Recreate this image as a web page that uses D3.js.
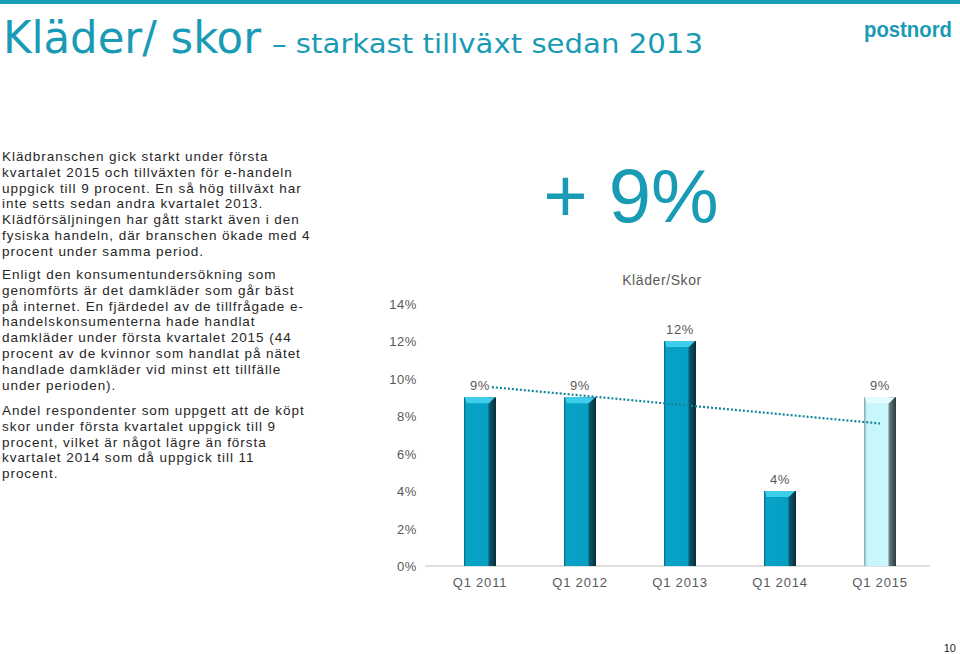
<!DOCTYPE html>
<html>
<head>
<meta charset="utf-8">
<script src="https://cdn.jsdelivr.net/npm/d3@7"></script>
<style>
  body { margin: 0; background: #fff; }
  svg { display: block; }
</style>
</head>
<body>
<div id="chart"></div>
<script>
// data
var categories = ["Q1 2011", "Q1 2012", "Q1 2013", "Q1 2014", "Q1 2015"];
var growth = [9, 9, 12, 4, 9];
var yTicks = [0, 2, 4, 6, 8, 10, 12, 14];

var titleMain = "Kläder/ skor";
var titleSub = "– starkast tillväxt sedan 2013";
var chartTitle = "Kläder/Skor";
var bigNumber = "+ 9%";

var para1 = [
  "Klädbranschen gick starkt under första",
  "kvartalet 2015 och tillväxten för e-handeln",
  "uppgick till 9 procent. En så hög tillväxt har",
  "inte setts sedan andra kvartalet 2013.",
  "Klädförsäljningen har gått starkt även i den",
  "fysiska handeln, där branschen ökade med 4",
  "procent under samma period."
];
var para2 = [
  "Enligt den konsumentundersökning som",
  "genomförts är det damkläder som går bäst",
  "på internet. En fjärdedel av de tillfrågade e-",
  "handelskonsumenterna hade handlat",
  "damkläder under första kvartalet 2015 (44",
  "procent av de kvinnor som handlat på nätet",
  "handlade damkläder vid minst ett tillfälle",
  "under perioden)."
];
var para3 = [
  "Andel respondenter som uppgett att de köpt",
  "skor under första kvartalet uppgick till 9",
  "procent, vilket är något lägre än första",
  "kvartalet 2014 som då uppgick till 11",
  "procent."
];

var svgWidth = 960;
var svgHeight = 654;
var teal = "#1a9bb5";
var grey = "#595959";

var svg = d3.select("#chart")
  .append("svg")
  .attr("width", svgWidth)
  .attr("height", svgHeight);

// top rule
svg.append("rect")
  .attr("x", 0).attr("y", 0)
  .attr("width", svgWidth).attr("height", 4)
  .attr("fill", teal);

// header
svg.append("text")
  .attr("x", 3).attr("y", 53)
  .attr("textLength", 258)
  .attr("lengthAdjust", "spacingAndGlyphs")
  .attr("font-family", "'Liberation Sans Narrow', 'DejaVu Sans Condensed', sans-serif")
  .attr("font-size", "44px")
  .attr("fill", teal)
  .text(titleMain);

svg.append("text")
  .attr("x", 272).attr("y", 53)
  .attr("textLength", 431)
  .attr("lengthAdjust", "spacingAndGlyphs")
  .attr("font-family", "'Liberation Sans Narrow', 'DejaVu Sans Condensed', sans-serif")
  .attr("font-size", "27px")
  .attr("fill", teal)
  .text(titleSub);

// postnord logo as text
svg.append("text")
  .attr("x", 908).attr("y", 37)
  .attr("text-anchor", "middle")
  .attr("textLength", 88)
  .attr("lengthAdjust", "spacingAndGlyphs")
  .attr("font-family", "'Liberation Sans', Arial, sans-serif")
  .attr("font-weight", "bold")
  .attr("font-size", "22px")
  .attr("fill", teal)
  .text("postnord");

// body text
function writeParagraph(lines, y0) {
  svg.append("g")
    .selectAll("text")
    .data(lines)
    .enter()
    .append("text")
    .attr("x", 2)
    .attr("y", (d, i) => y0 + i * 15.8)
    .attr("font-family", "'Liberation Sans', Arial, sans-serif")
    .attr("font-size", "13.5px")
    .attr("letter-spacing", "0.95px")
    .attr("fill", "#262626")
    .text(d => d);
}
writeParagraph(para1, 161);
writeParagraph(para2, 279);
writeParagraph(para3, 415);

// big growth number
svg.append("text")
  .attr("x", 631).attr("y", 222)
  .attr("text-anchor", "middle")
  .attr("font-family", "'Liberation Sans', Arial, sans-serif")
  .attr("font-size", "76px")
  .attr("fill", teal)
  .text(bigNumber);

// page number
svg.append("text")
  .attr("x", 956).attr("y", 652)
  .attr("text-anchor", "end")
  .attr("font-family", "'Liberation Sans', Arial, sans-serif")
  .attr("font-size", "11px")
  .attr("fill", "#222")
  .text("10");

// chart
var xScale = d3.scaleBand()
  .domain(categories)
  .range([430, 930])
  .paddingInner(0.68)
  .paddingOuter(0.34);

var yScale = d3.scaleLinear()
  .domain([0, 14])
  .range([566, 303.5]);

var defs = svg.append("defs");
function makeGrad(id, stops) {
  var g = defs.append("linearGradient")
    .attr("id", id)
    .attr("x1", 0).attr("x2", 1).attr("y1", 0).attr("y2", 0);
  stops.forEach(s => g.append("stop").attr("offset", s[0]).attr("stop-color", s[1]));
}
makeGrad("barDark", [
  ["0%", "#0a6a82"], ["7%", "#08a2c7"], ["74%", "#05a0c4"],
  ["79%", "#0b5a70"], ["100%", "#0a2b37"]
]);
makeGrad("barLight", [
  ["0%", "#86a4a9"], ["9%", "#c6f6fb"], ["74%", "#c9f7fc"],
  ["80%", "#62787d"], ["100%", "#2b3a3f"]
]);

var last = categories.length - 1;
var chartGroup = svg.append("g");

// axis line
chartGroup.append("line")
  .attr("x1", 425).attr("x2", 930)
  .attr("y1", yScale(0)).attr("y2", yScale(0))
  .attr("stroke", "#d4d4d4")
  .attr("stroke-width", 1.5);

// bars
var bw = xScale.bandwidth();
chartGroup.selectAll(".bar")
  .data(growth)
  .enter()
  .append("rect")
  .attr("class", "bar")
  .attr("x", (d, i) => xScale(categories[i]))
  .attr("y", d => yScale(d))
  .attr("width", bw)
  .attr("height", d => yScale(0) - yScale(d))
  .attr("fill", (d, i) => i === last ? "url(#barLight)" : "url(#barDark)");

// bevelled top caps
chartGroup.selectAll(".cap")
  .data(growth)
  .enter()
  .append("polygon")
  .attr("class", "cap")
  .attr("points", (d, i) => {
    var x0 = xScale(categories[i]), x1 = x0 + bw, y = yScale(d);
    return [[x0 + 1, y], [x1 - 1, y], [x1 - bw * 0.22, y + 6], [x0 + bw * 0.08, y + 6]]
      .map(p => p.join(",")).join(" ");
  })
  .attr("fill", (d, i) => i === last ? "#e3fcff" : "#3fcdec");

// linear trend line (least squares over the bars)
var n = growth.length;
var mx = d3.mean(d3.range(n));
var my = d3.mean(growth);
var slope = d3.sum(growth, (v, i) => (i - mx) * (v - my)) / d3.sum(d3.range(n), i => (i - mx) * (i - mx));
var trend = d3.range(n).map(i => my + slope * (i - mx));
var centre = i => xScale(categories[i]) + bw / 2;

chartGroup.append("line")
  .attr("x1", centre(0)).attr("y1", yScale(trend[0]))
  .attr("x2", centre(last)).attr("y2", yScale(trend[last]))
  .attr("stroke", "#12849a")
  .attr("stroke-width", 2.2)
  .attr("stroke-dasharray", "2,2");

// value labels
chartGroup.selectAll(".val")
  .data(growth)
  .enter()
  .append("text")
  .attr("class", "val")
  .attr("x", (d, i) => centre(i))
  .attr("y", d => yScale(d) - 7)
  .attr("text-anchor", "middle")
  .attr("font-family", "'Liberation Sans', Arial, sans-serif")
  .attr("font-size", "13px")
  .attr("letter-spacing", "0.6px")
  .attr("fill", grey)
  .attr("stroke", "#fff")
  .attr("stroke-width", 4)
  .style("paint-order", "stroke")
  .text(d => d + "%");

// y tick labels
chartGroup.selectAll(".ytick")
  .data(yTicks)
  .enter()
  .append("text")
  .attr("class", "ytick")
  .attr("x", 417)
  .attr("y", d => yScale(d) + 5)
  .attr("text-anchor", "end")
  .attr("font-family", "'Liberation Sans', Arial, sans-serif")
  .attr("font-size", "13px")
  .attr("letter-spacing", "0.6px")
  .attr("fill", grey)
  .text(d => d + "%");

// x labels
chartGroup.selectAll(".xtick")
  .data(categories)
  .enter()
  .append("text")
  .attr("class", "xtick")
  .attr("x", (d, i) => centre(i))
  .attr("y", 587)
  .attr("text-anchor", "middle")
  .attr("font-family", "'Liberation Sans', Arial, sans-serif")
  .attr("font-size", "13px")
  .attr("letter-spacing", "0.8px")
  .attr("fill", grey)
  .text(d => d);

// chart title
chartGroup.append("text")
  .attr("x", 662).attr("y", 285)
  .attr("text-anchor", "middle")
  .attr("font-family", "'Liberation Sans', Arial, sans-serif")
  .attr("font-size", "14px")
  .attr("letter-spacing", "0.6px")
  .attr("fill", grey)
  .text(chartTitle);
</script>
</body>
</html>
